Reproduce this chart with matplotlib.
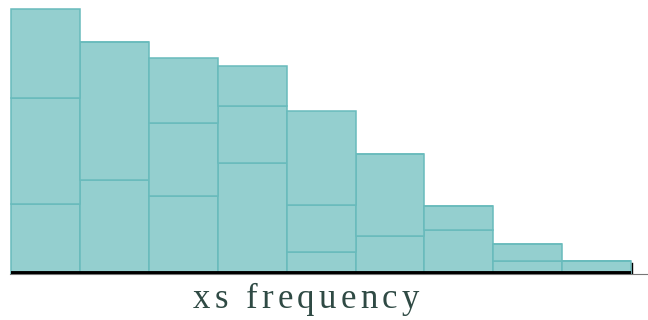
import matplotlib
matplotlib.use("Agg")
import matplotlib.pyplot as plt
import numpy as np

# stacked histogram, 9 bins, up to three layers per bin
bins = np.arange(9)
layer_bottom = [7.0, 9.4, 7.8, 11.1, 2.2, 3.8, 4.4, 1.3, 1.3]
layer_middle = [10.6, 13.8, 7.3, 5.7, 4.7, 8.2, 2.4, 1.7, 0.0]
layer_top = [8.9, 0.0, 6.5, 4.0, 9.4, 0.0, 0.0, 0.0, 0.0]
x_label = "xs frequency"

fill = "#94cfcf"
edge = "#68bbbc"

fig = plt.figure(figsize=(6.48, 3.2), dpi=100)
ax = fig.add_axes([10 / 648, 46 / 320, 638 / 648, 269 / 320])

base = np.zeros(len(bins))
for layer in (layer_bottom, layer_middle, layer_top):
    vals = np.array(layer)
    ax.bar(bins, vals, width=1.0, bottom=base, align="edge",
           color=fill, edgecolor=edge, linewidth=1.1)
    base = base + vals

# baseline
ax.plot([0, len(bins)], [0.15, 0.15], color="black", linewidth=2.8, solid_capstyle="butt", zorder=5)
ax.plot([len(bins) + 0.02] * 2, [0, 1.1], color="black", linewidth=1.0, zorder=5)

ax.set_xlim(-0.015, 9.245)
ax.set_ylim(0, 26.5 * 269 / 265)
for side in ("top", "left", "right"):
    ax.spines[side].set_visible(False)
ax.spines["bottom"].set_color("#777777")
ax.spines["bottom"].set_linewidth(0.8)
ax.set_xticks([])
ax.set_yticks([])

# x label with wide letter spacing, drawn one character at a time
renderer = fig.canvas.get_renderer()
tracking = 4.3  # px between characters
style = dict(family="Liberation Serif", fontsize=25, color="#2f4a44", va="baseline", ha="left")
widths = []
for ch in x_label:
    t = fig.text(0, 0, ch if ch != " " else "x", **style)
    w = t.get_window_extent(renderer).width
    if ch == " ":
        w *= 0.5
    widths.append(w)
    t.remove()
total = sum(widths) + tracking * (len(x_label) - 1)
x = 306 - total / 2
for ch, w in zip(x_label, widths):
    if ch != " ":
        fig.text(x / 648, 12 / 320, ch, **style)
    x += w + tracking

fig.savefig("out.png", dpi=100)
